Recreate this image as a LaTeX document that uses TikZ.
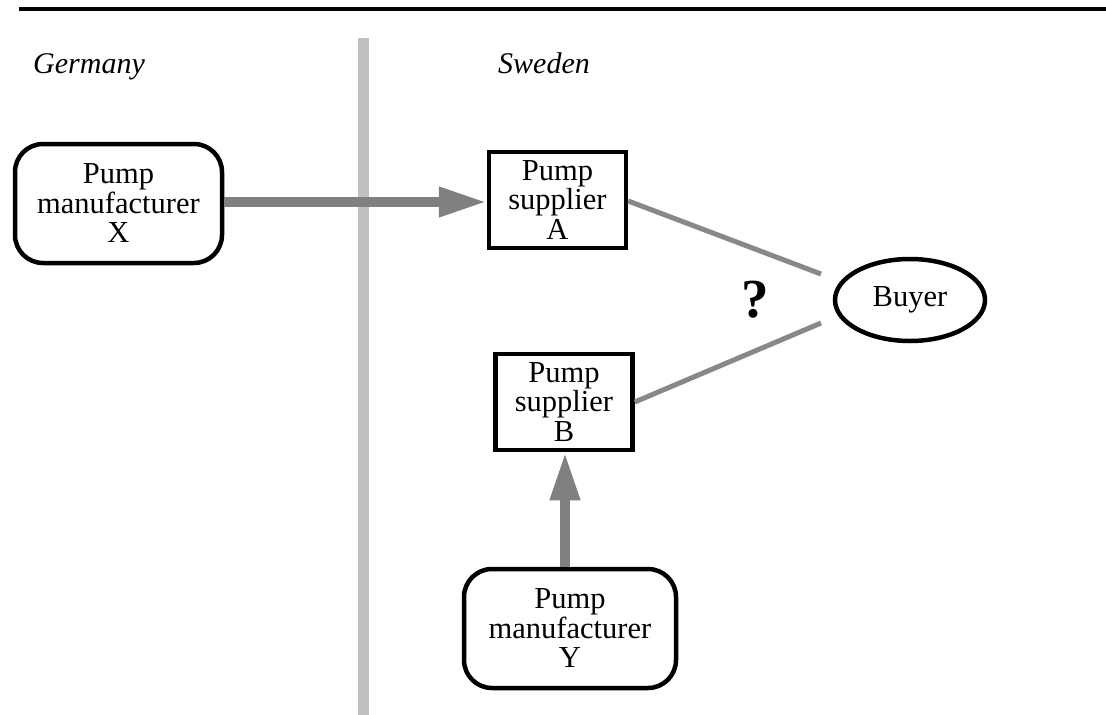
\documentclass[tikz,border=0pt]{standalone}
\usepackage{fontspec}
\setmainfont{Liberation Serif}
\usetikzlibrary{arrows.meta,shapes.geometric}
\definecolor{flowgray}{HTML}{808080}
\definecolor{bargray}{HTML}{C0C0C0}
\definecolor{linkgray}{HTML}{888888}
\tikzset{
  nodetext/.style={font=\fontsize{30.5}{29.5}\selectfont, align=center, inner sep=0pt},
  maker/.style={nodetext, draw, line width=4.5pt, rounded corners=28pt, minimum width=#1, minimum height=119pt},
  supplier/.style={nodetext, draw, line width=4.5pt, minimum width=137pt, minimum height=96pt},
  buyer/.style={nodetext, draw, ellipse, line width=4.5pt, minimum width=150pt, minimum height=82pt},
  flow/.style={draw=flowgray, line width=10pt, -{Triangle[length=48pt,width=28pt]}},
  link/.style={draw=linkgray, line width=5pt},
  country/.style={font=\fontsize{30}{30}\selectfont\itshape, anchor=base west, inner sep=0pt},
}
\begin{document}
\begin{tikzpicture}[x=1pt,y=-1pt]
\useasboundingbox (0,0) rectangle (1106,715);
% top rule
\coordinate (ruleL) at (19,9);
\coordinate (ruleR) at (1106,9);
\draw[line width=3.5pt] (ruleL) -- (ruleR);
% border bar
\coordinate (barT) at (363.5,38);
\coordinate (barB) at (363.5,715);
\draw[bargray, line width=11pt] (barT) -- (barB);
% countries
\node[country] (de) at (33,73) {Germany};
\node[country] (se) at (498,73) {Sweden};
% nodes
\node[maker=207pt] (X) at (118.5,203.5) {Pump\\manufacturer\\X};
\node[maker=212pt] (Y) at (570,628.5) {Pump\\manufacturer\\Y};
\node[supplier] (A) at (557.5,200) {Pump\\supplier\\A};
\node[supplier] (B) at (564,402) {Pump\\supplier\\B};
\node[buyer] (Buyer) at (910,300) {Buyer};
\node[font=\fontsize{55}{55}\selectfont\bfseries, inner sep=0pt] (q) at (755,300) {?};
% flows
\draw[flow] (X.east |- 0,202) -- (A.west |- 0,202);
\draw[flow] (Y.north -| 565,0) -- (B.south -| 565,0);
% links to buyer
\coordinate (ba) at (821,274);
\coordinate (bb) at (821,323);
\draw[link] (A.east |- 0,201) -- (ba);
\draw[link] (B.east |- 0,402) -- (bb);
\end{tikzpicture}
\end{document}
